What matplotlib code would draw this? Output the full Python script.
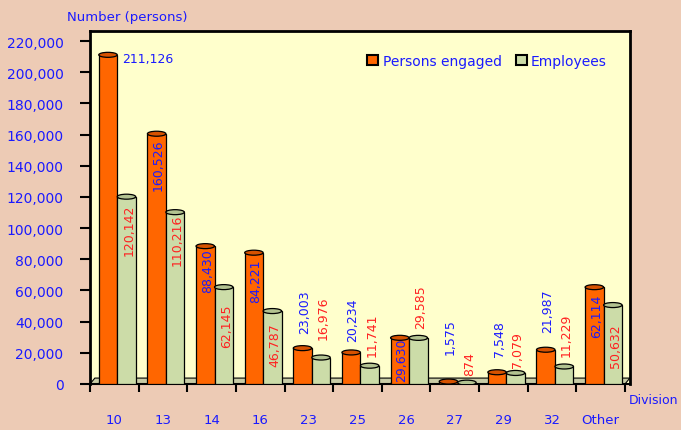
import matplotlib
matplotlib.use("Agg")
import matplotlib.pyplot as plt
import matplotlib.patches as mpatches
from matplotlib.patches import Ellipse, Polygon

# ── data ─────────────────────────────────────────────────────────────
divisions = ["10", "13", "14", "16", "23", "25", "26", "27", "29", "32", "Other"]
persons   = [211126, 160526, 88430, 84221, 23003, 20234, 29630, 1575, 7548, 21987, 62114]
employees = [120142, 110216, 62145, 46787, 16976, 11741, 29585, 874, 7079, 11229, 50632]

# label centre heights (layout only, data units)
pers_lab_y = [None, 141100, 73100, 66700, 46800, 41700, 16000, 30800, 29500, 47500, 44300]
emp_lab_y  = [99400, 93000, 37800, 25700, 43000, 32100, 50000, 13500, 22400, 32100, 25000]

BG     = "#EDCBB5"
WALL   = "#FFFFCC"
ORANGE = "#FF6600"
ORTOP  = "#D65200"
GREEN  = "#CCDCA8"
GRTOP  = "#B2C290"
BLUE   = "#1A1AFF"
RED    = "#FF2020"

W, H = 681, 431
fig = plt.figure(figsize=(W / 100, H / 100), dpi=100, facecolor=BG)
L, R, T, B = 90, 630, 32, 385
ax = fig.add_axes([L / W, 1 - B / H, (R - L) / W, (B - T) / H], facecolor=WALL)

YMAX = 220000 * (B - T) / (B - 42)
ax.set_ylim(0, YMAX)
ax.set_xlim(-0.5, 10.5 + 5 / 48.6)

n = len(divisions)
xs = list(range(n))
bw = 0.38
off_p, off_e = -0.13, 0.25
ell_h = 5 * YMAX / (B - T)

# floor slab
floor = Polygon([(-0.5, 0), (10.5, 0), (10.6, 3800), (-0.4, 3800)],
                closed=True, facecolor="#C9CCA6", edgecolor="black", lw=0.8, zorder=1)
ax.add_patch(floor)

for xpos, vals, off, fc, tc in [(xs, persons, off_p, ORANGE, ORTOP),
                                 (xs, employees, off_e, GREEN, GRTOP)]:
    cx = [x + off for x in xpos]
    ax.bar(cx, vals, width=bw, color=fc, edgecolor="black", lw=0.9, zorder=3)
    for c, v in zip(cx, vals):
        ax.add_patch(Ellipse((c, v), bw, ell_h, facecolor=tc, edgecolor="black",
                             lw=0.9, zorder=4))
        ax.add_patch(Ellipse((c, 0), bw, ell_h, facecolor=fc, edgecolor="black",
                             lw=0.9, zorder=2))

# value labels
ax.text(0 + off_p + 0.3, persons[0] - 2500, f"{persons[0]:,}", color=BLUE,
        fontsize=9, ha="left", va="center", zorder=6)
for i in range(1, n):
    ax.text(i + off_p + 0.04, pers_lab_y[i], f"{persons[i]:,}", color=BLUE,
            fontsize=9, rotation=90, ha="center", va="center", zorder=6)
for i in range(n):
    ax.text(i + off_e + 0.05, emp_lab_y[i], f"{employees[i]:,}", color=RED,
            fontsize=9, rotation=90, ha="center", va="center", zorder=6)

# axes styling
yt = list(range(0, 220001, 20000))
ax.set_yticks(yt)
ax.set_yticklabels([f"{v:,}" for v in yt], color=BLUE, fontsize=10)
ax.tick_params(axis="y", length=7, width=1.5, direction="out", pad=12)
ax.set_xticks([x - 0.5 for x in range(n + 1)])
ax.set_xticklabels([])
ax.tick_params(axis="x", length=6, width=1.5, direction="out")
for x, lab in zip(xs, divisions):
    ax.text(x, -0.1, lab, transform=ax.get_xaxis_transform(), color=BLUE,
            fontsize=9.5, ha="center", va="center")
for s in ax.spines.values():
    s.set_color("black")
    s.set_linewidth(2)
ax.spines["bottom"].set_linewidth(1.5)

fig.text(67 / W, 1 - 17 / H, "Number (persons)", color=BLUE, fontsize=9.5,
         ha="left", va="center")
fig.text(629 / W, 1 - 401 / H, "Division", color=BLUE, fontsize=9,
         ha="left", va="center")

handles = [mpatches.Patch(facecolor=ORANGE, edgecolor="black", lw=1.5, label="Persons engaged"),
           mpatches.Patch(facecolor=GREEN, edgecolor="black", lw=1.5, label="Employees")]
leg = fig.legend(handles=handles, loc="center", bbox_to_anchor=(487 / W, 1 - 62 / H),
                 ncol=2, frameon=False, fontsize=10, handlelength=0.8, handleheight=0.8,
                 handletextpad=0.3, columnspacing=1.0)
for t in leg.get_texts():
    t.set_color(BLUE)

fig.savefig("out.png", dpi=100, facecolor=BG)
